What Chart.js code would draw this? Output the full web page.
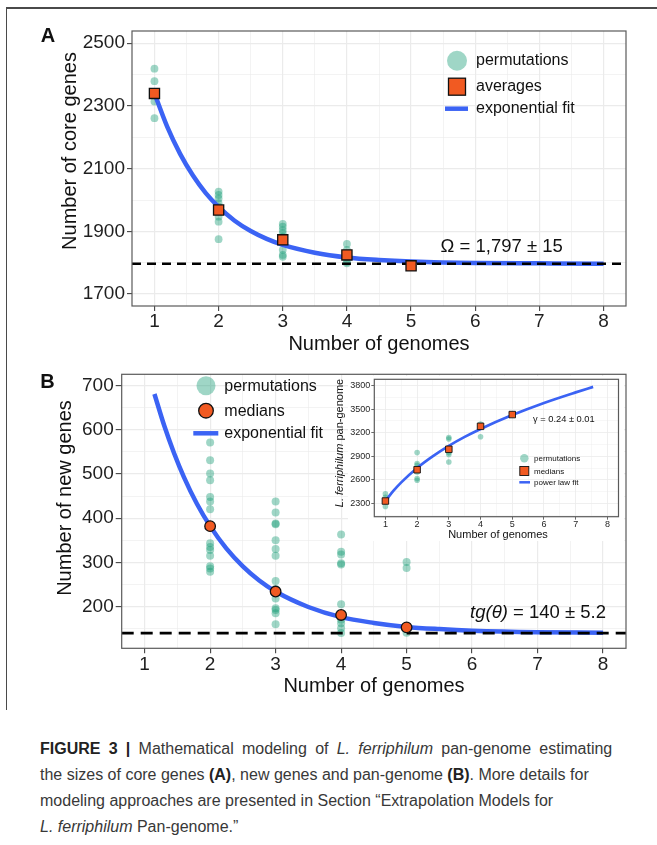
<!DOCTYPE html>
<html>
<head>
<meta charset="utf-8">
<script src="https://cdn.jsdelivr.net/npm/chart.js@4.4.1/dist/chart.umd.min.js"></script>
<style>
  html, body { margin: 0; padding: 0; background: #fff; }
  body { width: 657px; height: 845px; position: relative; overflow: hidden; }
  #frame { position: absolute; left: 6px; top: 7px; width: 660px; height: 701px; border-top: 2px solid #4a4a4a; border-left: 1.5px solid #4a4a4a; }
  canvas { position: absolute; }
  #coreChart { left: 0; top: 0; }
  #newChart { left: 0; top: 360px; }
  #panChart { left: 330px; top: 372px; }
  #caption { position: absolute; left: 40px; top: 735.5px; font-family: "Liberation Sans", Arial, sans-serif; font-size: 16px; line-height: 26.3px; color: #383838; white-space: nowrap; }
  #caption b { color: #222; }
  #caption .wide { word-spacing: 3.8px; }
</style>
</head>
<body>
<div id="frame"></div>
<canvas id="coreChart" width="657" height="360"></canvas>
<canvas id="newChart" width="657" height="340"></canvas>
<canvas id="panChart" width="294" height="172"></canvas>
<div id="caption">
<span class="wide"><b>FIGURE 3 |</b> Mathematical modeling of <i>L. ferriphilum</i> pan-genome estimating</span><br>
the sizes of core genes <b>(A)</b>, new genes and pan-genome <b>(B)</b>. More details for<br>
modeling approaches are presented in Section “Extrapolation Models for<br>
<i>L. ferriphilum</i> Pan-genome.”
</div>
<script>
const FONT = '"Liberation Sans", Arial, Helvetica, sans-serif';
const GREEN = 'rgba(27, 158, 119, 0.42)';
const ORANGE = '#F15A22';
const BLUE = '#3B63F4';
const X_RANGE = [0.65, 8.35];

// shared x axis
const genomeTicks = [1, 2, 3, 4, 5, 6, 7, 8];

// A: core genes
const coreTicks = [1700, 1900, 2100, 2300, 2500];
const coreGenomes = [1, 2, 3, 4, 5];
const corePermutations = [
  [2419, 2379, 2340, 2314, 2261],
  [2027, 2016, 2005, 1990, 1979, 1968, 1947, 1931, 1875],
  [1924, 1915, 1904, 1894, 1883, 1873, 1841, 1825, 1819],
  [1860, 1841, 1825, 1803, 1798],
  [1795, 1790]
];
const coreAverages = [2340, 1968, 1873, 1825, 1790];
const coreFitX = [1, 1.2, 1.4, 1.6, 1.8, 2, 2.25, 2.5, 2.75, 3, 3.5, 4, 4.5, 5, 6, 7, 8];
const coreFitY = [2340, 2233, 2147, 2078, 2022, 1978, 1934, 1901, 1876, 1857, 1832, 1817, 1809, 1804, 1799, 1798, 1797];
const coreOmega = 1797;

// B: new genes
const newTicks = [200, 300, 400, 500, 600, 700];
const newGenomes = [2, 3, 4, 5];
const newPermutations = [
  [571, 531, 501, 486, 448, 438, 420, 382, 343, 335, 328, 315, 291, 286, 279],
  [438, 413, 388, 386, 350, 330, 315, 258, 240, 234, 218, 196, 192, 185, 160],
  [363, 324, 318, 298, 295, 205, 181, 170, 162, 151, 140],
  [301, 287, 141]
];
const newMedians = [382, 234, 181, 153];
const newFitX = [1.15, 1.3, 1.45, 1.6, 1.8, 2, 2.25, 2.5, 2.75, 3, 3.5, 4, 4.5, 5, 5.5, 6, 7, 8];
const newFitY = [681, 609, 547, 493, 432, 382, 331, 291, 259, 234, 199, 176, 163, 154, 149, 145.5, 142, 141];
const newTheta = 140;

// B inset: pan-genome
const panTicks = [2300, 2600, 2900, 3200, 3500, 3800];
const panGenomes = [1, 2, 3, 4, 5];
const panPermutations = [
  [2420, 2378, 2329, 2260],
  [2947, 2807, 2785, 2728, 2700, 2615, 2594],
  [3140, 3120, 2989, 2947, 2922, 2827],
  [3312, 3282, 3149],
  [3432]
];
const panMedians = [2329, 2728, 2989, 3282, 3432];
const panFitX = [1, 1.25, 1.5, 2, 2.5, 3, 3.5, 4, 5, 6, 7, 7.55];
const panFitY = [2329, 2457, 2567, 2751, 2902, 3033, 3147, 3249, 3426, 3580, 3715, 3785];

function pairs(xs, ys) {
  return xs.map((x, i) => ({ x: x, y: ys[i] }));
}
function permutationPoints(genomes, groups) {
  return genomes.flatMap((g, i) => groups[i].map(y => ({ x: g, y: y })));
}
function gridValues(major, range) {
  const step = major[1] - major[0];
  const out = [];
  for (let v = major[0] - step; v <= major[major.length - 1] + step; v += step / 2) {
    if (v >= range[0] && v <= range[1]) out.push(v);
  }
  return out;
}

function axis(major, range, o) {
  const isMajor = c => c.tick && major.includes(c.tick.value);
  return {
    type: 'linear',
    min: range[0],
    max: range[1],
    afterBuildTicks: scale => { scale.ticks = gridValues(major, range).map(v => ({ value: v })); },
    afterFit: scale => {
      if (o.width) scale.width = o.width;
      if (o.height) scale.height = o.height;
    },
    border: { display: false },
    grid: {
      color: '#EBEBEB',
      lineWidth: c => isMajor(c) ? o.major : o.minor,
      tickColor: c => isMajor(c) ? '#444' : 'rgba(0,0,0,0)',
      tickWidth: o.tickWidth,
      tickLength: o.tickLength
    },
    ticks: {
      autoSkip: false,
      maxRotation: 0,
      minRotation: 0,
      padding: o.pad,
      color: '#1f1f1f',
      font: { family: FONT, size: o.size, lineHeight: 1 },
      callback: v => major.includes(v) ? String(v) : ''
    }
  };
}

const panelBorder = {
  id: 'panelBorder',
  afterDatasetsDraw(chart) {
    const { ctx, chartArea: a } = chart;
    ctx.save();
    ctx.strokeStyle = '#5a5a5a';
    ctx.lineWidth = 1.2;
    ctx.strokeRect(a.left, a.top, a.right - a.left, a.bottom - a.top);
    ctx.restore();
  }
};

function drawText(ctx, item) {
  ctx.save();
  ctx.translate(item.x, item.y);
  if (item.rotate) ctx.rotate(item.rotate);
  ctx.fillStyle = item.color || '#111';
  ctx.textBaseline = 'alphabetic';
  ctx.textAlign = 'left';
  const parts = item.parts || [{ t: item.text }];
  const fonts = parts.map(p => (p.italic ? 'italic ' : '') + (item.bold ? 'bold ' : '') + item.size + 'px ' + FONT);
  const widths = parts.map((p, i) => { ctx.font = fonts[i]; return ctx.measureText(p.t).width; });
  const total = widths.reduce((a, b) => a + b, 0);
  let x = item.align === 'center' ? -total / 2 : item.align === 'right' ? -total : 0;
  parts.forEach((p, i) => { ctx.font = fonts[i]; ctx.fillText(p.t, x, 0); x += widths[i]; });
  ctx.restore();
}

function keyCircle(ctx, x, y, r, fill, stroke, lw) {
  ctx.beginPath();
  ctx.arc(x, y, r, 0, Math.PI * 2);
  ctx.fillStyle = fill;
  ctx.fill();
  if (stroke) { ctx.strokeStyle = stroke; ctx.lineWidth = lw; ctx.stroke(); }
}
function keySquare(ctx, x, y, side, lw) {
  ctx.fillStyle = ORANGE;
  ctx.fillRect(x - side / 2, y - side / 2, side, side);
  ctx.strokeStyle = '#111';
  ctx.lineWidth = lw;
  ctx.strokeRect(x - side / 2, y - side / 2, side, side);
}
function keyLine(ctx, x1, x2, y, w) {
  ctx.beginPath();
  ctx.moveTo(x1, y);
  ctx.lineTo(x2, y);
  ctx.strokeStyle = BLUE;
  ctx.lineWidth = w;
  ctx.stroke();
}

function overlay(texts, legend) {
  return {
    id: 'overlay',
    afterDraw(chart) {
      const ctx = chart.ctx;
      ctx.save();
      legend(ctx);
      ctx.restore();
      texts.forEach(t => drawText(ctx, t));
    }
  };
}

const whiteInset = {
  id: 'whiteInset',
  beforeDraw(chart) {
    const ctx = chart.ctx;
    ctx.save();
    ctx.fillStyle = '#fff';
    ctx.fillRect(18, 4, chart.width - 18, 165);
    ctx.restore();
  }
};

function fitDataset(xs, ys, width, order) {
  return {
    type: 'line', data: pairs(xs, ys), borderColor: BLUE, borderWidth: width,
    pointRadius: 0, cubicInterpolationMode: 'monotone', fill: false, order: order
  };
}
function hline(value, dash, width, order) {
  return {
    type: 'line', data: [{ x: X_RANGE[0], y: value }, { x: X_RANGE[1], y: value }],
    borderColor: '#000', borderWidth: width, borderDash: dash, pointRadius: 0, fill: false, order: order
  };
}
function dotsDataset(data, r, order) {
  return {
    type: 'scatter', data: data, pointRadius: r, pointBackgroundColor: GREEN,
    pointBorderWidth: 0, pointBorderColor: 'rgba(0,0,0,0)', order: order
  };
}
function markDataset(data, style, r, lw, order) {
  return {
    type: 'scatter', data: data, pointStyle: style, pointRadius: r, pointBackgroundColor: ORANGE,
    pointBorderColor: '#111', pointBorderWidth: lw, order: order
  };
}

const common = {
  responsive: false,
  devicePixelRatio: 1,
  animation: false,
  events: [],
  plugins: { legend: { display: false }, tooltip: { enabled: false } }
};

// Panel A
new Chart(document.getElementById('coreChart'), {
  type: 'scatter',
  data: {
    datasets: [
      markDataset(pairs(coreGenomes, coreAverages), 'rect', 7.2, 1.3, 1),
      hline(coreOmega, [9, 6], 2.5, 2),
      fitDataset(coreFitX, coreFitY, 4.5, 3),
      dotsDataset(permutationPoints(coreGenomes, corePermutations), 3.9, 4)
    ]
  },
  options: Object.assign({}, common, {
    layout: { padding: { left: 0, top: 31, right: 31, bottom: 0 } },
    scales: {
      x: axis(genomeTicks, X_RANGE, { height: 54, major: 1.2, minor: 0.6, tickWidth: 1.1, tickLength: 5, pad: 1, size: 19 }),
      y: axis(coreTicks, [1662, 2539], { width: 132, major: 1.2, minor: 0.6, tickWidth: 1.1, tickLength: 5, pad: 2, size: 19 })
    }
  }),
  plugins: [panelBorder, overlay([
    { text: 'A', x: 48, y: 42, size: 20, bold: true, align: 'center' },
    { text: 'Number of core genes', x: 76, y: 151, size: 20, align: 'center', rotate: -Math.PI / 2 },
    { text: 'Number of genomes', x: 379, y: 349.5, size: 20, align: 'center' },
    { text: 'Ω = 1,797 ± 15', x: 501.7, y: 251.7, size: 18.5, align: 'center' },
    { text: 'permutations', x: 476, y: 65, size: 16 },
    { text: 'averages', x: 476, y: 90.7, size: 16 },
    { text: 'exponential fit', x: 476, y: 112.7, size: 16 }
  ], ctx => {
    keyCircle(ctx, 457, 60.7, 10, GREEN);
    keySquare(ctx, 457, 86.7, 17, 1.3);
    keyLine(ctx, 445, 468, 108.7, 4.5);
  })]
});

// Panel B
new Chart(document.getElementById('newChart'), {
  type: 'scatter',
  data: {
    datasets: [
      markDataset(pairs(newGenomes, newMedians), 'circle', 5.3, 1.3, 1),
      hline(newTheta, [12, 7], 2.7, 2),
      fitDataset(newFitX, newFitY, 4.5, 3),
      dotsDataset(permutationPoints(newGenomes, newPermutations), 4, 4)
    ]
  },
  options: Object.assign({}, common, {
    layout: { padding: { left: 0, top: 14.3, right: 31, bottom: 0 } },
    scales: {
      x: axis(genomeTicks, X_RANGE, { height: 51.7, major: 1.2, minor: 0.6, tickWidth: 1.1, tickLength: 5, pad: 1.7, size: 19 }),
      y: axis(newTicks, [105.6, 725.5], { width: 121.7, major: 1.2, minor: 0.6, tickWidth: 1.1, tickLength: 6, pad: 2, size: 19 })
    }
  }),
  plugins: [panelBorder, overlay([
    { text: 'B', x: 47.5, y: 28, size: 20, bold: true, align: 'center' },
    { text: 'Number of new genes', x: 71, y: 138, size: 20, align: 'center', rotate: -Math.PI / 2 },
    { text: 'Number of genomes', x: 374, y: 331.7, size: 20, align: 'center' },
    { parts: [{ t: 'tg(θ)', italic: true }, { t: ' = 140 ± 5.2' }], x: 606, y: 257.5, size: 18.5, align: 'right' },
    { text: 'permutations', x: 224.3, y: 31, size: 16 },
    { text: 'medians', x: 224.3, y: 55.7, size: 16 },
    { text: 'exponential fit', x: 224.3, y: 77.7, size: 16 }
  ], ctx => {
    keyCircle(ctx, 206, 25.7, 9.5, GREEN);
    keyCircle(ctx, 206, 50.7, 7.3, ORANGE, '#111', 1.3);
    keyLine(ctx, 193.3, 218.3, 73.3, 4.5);
  })]
});

// Inset
new Chart(document.getElementById('panChart'), {
  type: 'scatter',
  data: {
    datasets: [
      markDataset(pairs(panGenomes, panMedians), 'rect', 4.6, 0.9, 1),
      fitDataset(panFitX, panFitY, 2.7, 2),
      dotsDataset(permutationPoints(panGenomes, panPermutations), 2.8, 3)
    ]
  },
  options: Object.assign({}, common, {
    layout: { padding: { left: 0, top: 7.3, right: 1.7, bottom: 0 } },
    scales: {
      x: axis(genomeTicks, X_RANGE, { height: 27.3, major: 0.8, minor: 0.4, tickWidth: 0.8, tickLength: 3, pad: 0, size: 9 }),
      y: axis(panTicks, [2129, 3882], { width: 44.3, major: 0.8, minor: 0.4, tickWidth: 0.8, tickLength: 3, pad: 1, size: 9 })
    }
  }),
  plugins: [whiteInset, panelBorder, overlay([
    { parts: [{ t: 'L. ferriphilum', italic: true }, { t: ' pan-genome' }], x: 13, y: 71, size: 11, align: 'center', rotate: -Math.PI / 2 },
    { text: 'Number of genomes', x: 168, y: 165.7, size: 11, align: 'center' },
    { text: 'γ = 0.24 ± 0.01', x: 203, y: 49.7, size: 9.3 },
    { text: 'permutations', x: 204, y: 89, size: 8 },
    { text: 'medians', x: 204, y: 102, size: 8 },
    { text: 'power law fit', x: 204, y: 113, size: 8 }
  ], ctx => {
    keyCircle(ctx, 194.3, 86.3, 4.2, GREEN);
    keySquare(ctx, 194.3, 99, 9, 0.9);
    keyLine(ctx, 189.3, 200, 110.3, 2.5);
  })]
});
</script>
</body>
</html>
